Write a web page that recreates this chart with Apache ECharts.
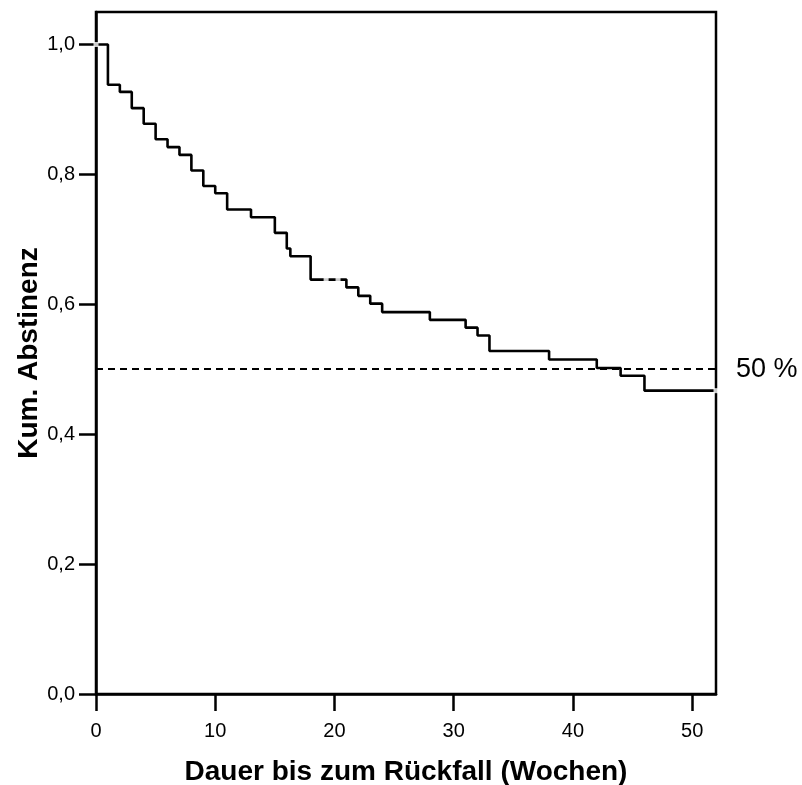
<!DOCTYPE html>
<html>
<head>
<meta charset="utf-8">
<script src="https://cdn.jsdelivr.net/npm/echarts@6/dist/echarts.min.js"></script>
<style>
html,body{margin:0;padding:0;background:#fff;}
#c{width:802px;height:785px;}
</style>
</head>
<body>
<div id="c"></div>
<script>
// Kaplan-Meier step data (time in weeks, cumulative abstinence)
var times = [0, 1, 2, 3, 4, 5, 6, 7, 8, 9, 10, 11, 13, 15, 16, 16.3, 18, 21, 22, 23, 24, 28, 31, 32, 33, 38, 42, 44, 46, 52];
var surv  = [1.0, 0.938, 0.927, 0.902, 0.878, 0.854, 0.842, 0.830, 0.806, 0.782, 0.771, 0.746, 0.734, 0.710, 0.686, 0.674, 0.638, 0.626, 0.613, 0.601, 0.588, 0.576, 0.564, 0.552, 0.528, 0.515, 0.502, 0.490, 0.467, 0.467];
var censorTimes = [0, 19.3, 20.3, 52];
var censorSurv  = [1.0, 0.638, 0.638, 0.467];
var xTicks = [0, 10, 20, 30, 40, 50];
var yTicks = [0, 0.2, 0.4, 0.6, 0.8, 1.0];
var refLevel = 0.5;
var refLabel = '50 %';
var xTitle = 'Dauer bis zum Rückfall (Wochen)';
var yTitle = 'Kum. Abstinenz';

var kmData = times.map(function (t, i) { return [t, surv[i]]; });
var censorData = censorTimes.map(function (t, i) { return [t, censorSurv[i]]; });

var font = 'Liberation Sans, Arial, Helvetica, sans-serif';
var chart = echarts.init(document.getElementById('c'), null, {renderer: 'canvas'});
chart.setOption({
  animation: false,
  backgroundColor: '#fff',
  grid: {left: 96, top: 12, width: 620, height: 682, containLabel: false, outerBoundsMode: 'none',
    show: true, borderColor: '#000', borderWidth: 2.5, backgroundColor: 'transparent'},
  xAxis: {
    type: 'value', min: 0, max: 52,
    splitLine: {show: false},
    axisLine: {show: true, onZero: false, lineStyle: {color: '#000', width: 2.5}},
    axisTick: {show: true, length: 17, customValues: xTicks, lineStyle: {color: '#000', width: 2.5}},
    axisLabel: {customValues: xTicks, margin: 27, color: '#000', fontSize: 20, fontFamily: font},
    name: xTitle, nameLocation: 'middle', nameGap: 64, nameMoveOverlap: false,
    nameTextStyle: {color: '#000', fontSize: 28, fontWeight: 'bold', fontFamily: font}
  },
  yAxis: {
    type: 'value', min: 0, max: 1.05,
    splitLine: {show: false},
    axisLine: {show: true, onZero: false, lineStyle: {color: '#000', width: 2.5}},
    axisTick: {show: true, length: 17, customValues: yTicks, lineStyle: {color: '#000', width: 2.5}},
    axisLabel: {customValues: yTicks, margin: 21, color: '#000', fontSize: 20, fontFamily: font,
      formatter: function (v) { return v.toFixed(1).replace('.', ','); }},
    name: yTitle, nameLocation: 'middle', nameGap: 53, nameMoveOverlap: false,
    nameTextStyle: {color: '#000', fontSize: 28, fontWeight: 'bold', fontFamily: font}
  },
  series: [
    {
      type: 'line', step: 'end', data: kmData, symbol: 'none',
      lineStyle: {color: '#000', width: 2.6}, z: 3,
      markLine: {
        silent: true, symbol: 'none',
        lineStyle: {color: '#000', width: 2.2, type: [7, 5]},
        label: {show: true, position: 'end', distance: 20, formatter: refLabel, color: '#000', fontSize: 27, fontFamily: font},
        data: [[{coord: [0, refLevel]}, {coord: [52, refLevel]}]]
      }
    },
    {
      type: 'scatter', data: censorData, symbol: 'rect', symbolSize: [5, 5],
      itemStyle: {color: '#fff'}, z: 5, silent: true
    }
  ]
});
</script>
</body>
</html>
